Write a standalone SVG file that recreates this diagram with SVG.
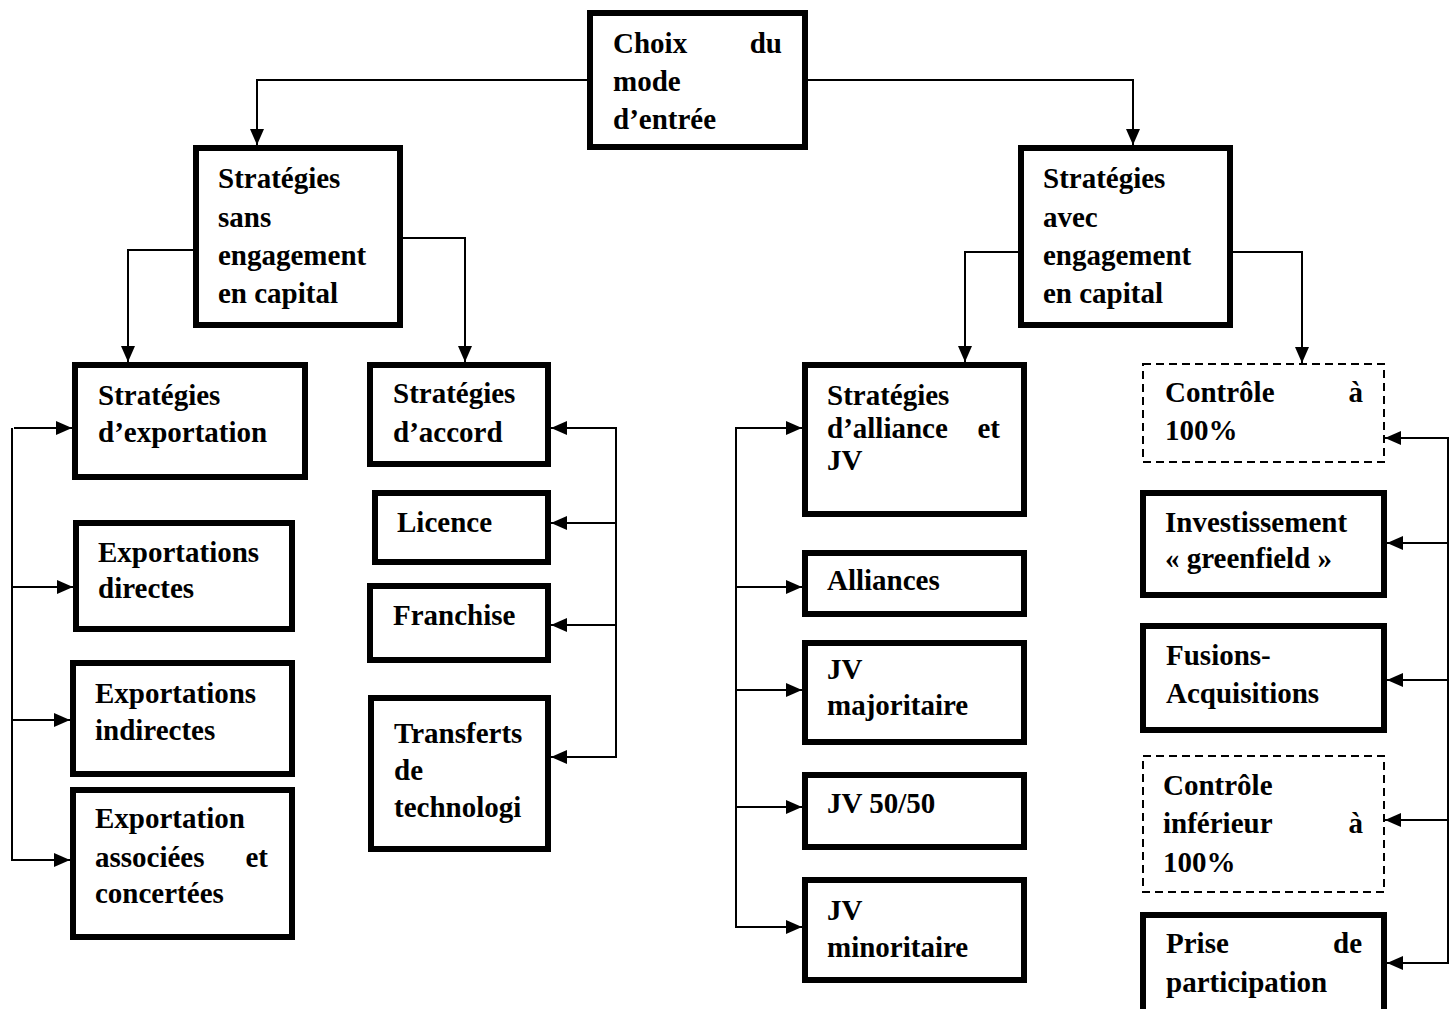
<svg xmlns="http://www.w3.org/2000/svg" width="1456" height="1009" viewBox="0 0 1456 1009">
<style>
.b{fill:#fff;stroke:#000;stroke-width:6}
.d{fill:#fff;stroke:#000;stroke-width:2;stroke-dasharray:8 5}
text{font-family:"Liberation Serif","Times New Roman",serif;font-weight:bold;font-size:29px;fill:#000}
.e{text-anchor:end}
.c{fill:none;stroke:#000;stroke-width:2}
</style>
<defs>
<marker id="ah" markerUnits="userSpaceOnUse" markerWidth="16" markerHeight="14" refX="16" refY="7" orient="auto">
<path d="M0,0 L16,7 L0,14 z" fill="#000"/>
</marker>
</defs>
<rect width="1456" height="1009" fill="#fff"/>
<g id="connectors">
<polyline class="c" points="587,80 257,80 257,145" marker-end="url(#ah)"/>
<polyline class="c" points="808,80 1133,80 1133,145" marker-end="url(#ah)"/>
<polyline class="c" points="193,250 128,250 128,362" marker-end="url(#ah)"/>
<polyline class="c" points="403,238 465,238 465,362" marker-end="url(#ah)"/>
<polyline class="c" points="1018,252 965,252 965,362" marker-end="url(#ah)"/>
<polyline class="c" points="1233,252 1302,252 1302,363" marker-end="url(#ah)"/>
<line class="c" x1="12" y1="428" x2="12" y2="860"/>
<line class="c" x1="14" y1="428" x2="72" y2="428" marker-end="url(#ah)"/>
<line class="c" x1="12" y1="587" x2="73" y2="587" marker-end="url(#ah)"/>
<line class="c" x1="12" y1="720" x2="70" y2="720" marker-end="url(#ah)"/>
<line class="c" x1="11" y1="860" x2="70" y2="860" marker-end="url(#ah)"/>
<line class="c" x1="616" y1="428" x2="616" y2="757"/>
<line class="c" x1="617" y1="428" x2="551" y2="428" marker-end="url(#ah)"/>
<line class="c" x1="616" y1="523" x2="551" y2="523" marker-end="url(#ah)"/>
<line class="c" x1="616" y1="625" x2="551" y2="625" marker-end="url(#ah)"/>
<line class="c" x1="617" y1="757" x2="551" y2="757" marker-end="url(#ah)"/>
<line class="c" x1="736" y1="428" x2="736" y2="927"/>
<line class="c" x1="735" y1="428" x2="802" y2="428" marker-end="url(#ah)"/>
<line class="c" x1="736" y1="587" x2="802" y2="587" marker-end="url(#ah)"/>
<line class="c" x1="736" y1="690" x2="802" y2="690" marker-end="url(#ah)"/>
<line class="c" x1="736" y1="807" x2="802" y2="807" marker-end="url(#ah)"/>
<line class="c" x1="735" y1="927" x2="802" y2="927" marker-end="url(#ah)"/>
<line class="c" x1="1448" y1="438" x2="1448" y2="963"/>
<line class="c" x1="1449" y1="438" x2="1385" y2="438" marker-end="url(#ah)"/>
<line class="c" x1="1448" y1="543" x2="1387" y2="543" marker-end="url(#ah)"/>
<line class="c" x1="1448" y1="680" x2="1387" y2="680" marker-end="url(#ah)"/>
<line class="c" x1="1448" y1="820" x2="1385" y2="820" marker-end="url(#ah)"/>
<line class="c" x1="1449" y1="963" x2="1387" y2="963" marker-end="url(#ah)"/>
</g>
<g id="n-choix"><rect class="b" x="590" y="13" width="215" height="134"/><text x="613" y="53">Choix</text><text class="e" x="782" y="53">du</text><text x="613" y="91">mode</text><text x="613" y="129">d’entrée</text></g>
<g id="n-sans"><rect class="b" x="196" y="148" width="204" height="177"/><text x="218" y="188">Stratégies</text><text x="218" y="227">sans</text><text x="218" y="265">engagement</text><text x="218" y="303">en capital</text></g>
<g id="n-avec"><rect class="b" x="1021" y="148" width="209" height="177"/><text x="1043" y="188">Stratégies</text><text x="1043" y="227">avec</text><text x="1043" y="265">engagement</text><text x="1043" y="303">en capital</text></g>
<g id="n-export"><rect class="b" x="75" y="365" width="230" height="112"/><text x="98" y="405">Stratégies</text><text x="98" y="442">d’exportation</text></g>
<g id="n-directes"><rect class="b" x="76" y="523" width="216" height="106"/><text x="98" y="562">Exportations</text><text x="98" y="598">directes</text></g>
<g id="n-indirectes"><rect class="b" x="73" y="663" width="219" height="111"/><text x="95" y="703">Exportations</text><text x="95" y="740">indirectes</text></g>
<g id="n-associees"><rect class="b" x="73" y="790" width="219" height="147"/><text x="95" y="828">Exportation</text><text x="95" y="867">associées</text><text class="e" x="268" y="867">et</text><text x="95" y="903">concertées</text></g>
<g id="n-accord"><rect class="b" x="370" y="365" width="178" height="99"/><text x="393" y="403">Stratégies</text><text x="393" y="442">d’accord</text></g>
<g id="n-licence"><rect class="b" x="375" y="493" width="173" height="69"/><text x="397" y="532">Licence</text></g>
<g id="n-franchise"><rect class="b" x="370" y="586" width="178" height="74"/><text x="393" y="625">Franchise</text></g>
<g id="n-transferts"><rect class="b" x="371" y="698" width="177" height="151"/><text x="394" y="743">Transferts</text><text x="394" y="780">de</text><text x="394" y="817">technologi</text></g>
<g id="n-alliance"><rect class="b" x="805" y="365" width="219" height="149"/><text x="827" y="405">Stratégies</text><text x="827" y="438">d’alliance</text><text class="e" x="1000" y="438">et</text><text x="827" y="470">JV</text></g>
<g id="n-alliances"><rect class="b" x="805" y="553" width="219" height="61"/><text x="827" y="590">Alliances</text></g>
<g id="n-jvmaj"><rect class="b" x="805" y="643" width="219" height="99"/><text x="827" y="679">JV</text><text x="827" y="715">majoritaire</text></g>
<g id="n-jv5050"><rect class="b" x="805" y="775" width="219" height="72"/><text x="827" y="813">JV 50/50</text></g>
<g id="n-jvmin"><rect class="b" x="805" y="880" width="219" height="100"/><text x="827" y="920">JV</text><text x="827" y="957">minoritaire</text></g>
<g id="n-controle100"><rect class="d" x="1143" y="364" width="241" height="98"/><text x="1165" y="402">Contrôle</text><text class="e" x="1363" y="402">à</text><text x="1165" y="440">100%</text></g>
<g id="n-greenfield"><rect class="b" x="1143" y="493" width="241" height="102"/><text x="1165" y="532">Investissement</text><text x="1165" y="568">« greenfield »</text></g>
<g id="n-fusions"><rect class="b" x="1143" y="626" width="241" height="104"/><text x="1166" y="665">Fusions-</text><text x="1166" y="703">Acquisitions</text></g>
<g id="n-controleinf"><rect class="d" x="1143" y="756" width="241" height="136"/><text x="1163" y="795">Contrôle</text><text x="1163" y="833">inférieur</text><text class="e" x="1363" y="833">à</text><text x="1163" y="872">100%</text></g>
<g id="n-prise"><rect class="b" x="1143" y="915" width="241" height="100"/><text x="1166" y="953">Prise</text><text class="e" x="1362" y="953">de</text><text x="1166" y="992">participation</text></g>
</svg>
